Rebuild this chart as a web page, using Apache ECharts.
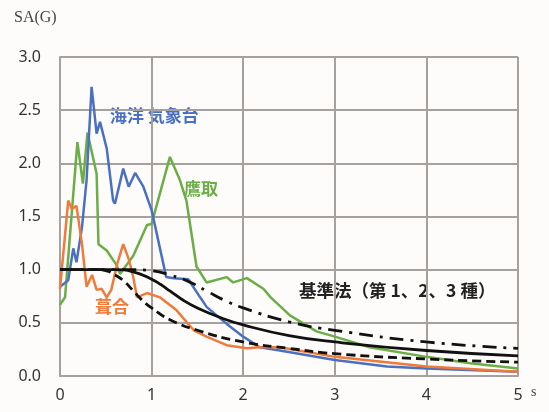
<!DOCTYPE html>
<html lang="ja">
<head>
    <meta charset="UTF-8">
    <script src="https://cdn.jsdelivr.net/npm/echarts@6/dist/echarts.min.js"></script>
    <style>
        body { margin: 0; background: #fdfcfa; }
        #main { width: 549px; height: 412px; }
    </style>
</head>
<body>
    <div id="main"></div>
    <script>
        // period (s) / spectral acceleration (G)
        const kaiyou = [[0,0.84],[0.09,0.9],[0.145,1.2],[0.18,1.07],[0.24,1.4],[0.29,1.84],[0.345,2.72],[0.40,2.28],[0.437,2.39],[0.51,2.14],[0.58,1.65],[0.60,1.62],[0.69,1.95],[0.75,1.78],[0.82,1.91],[0.91,1.78],[1.0,1.56],[1.16,0.93],[1.24,0.92],[1.40,0.91],[1.53,0.74],[1.60,0.65],[1.82,0.49],[2.0,0.37],[2.18,0.27],[2.4,0.24],[3.0,0.15],[3.57,0.09],[4.0,0.07],[5.0,0.04]];
        const takatori = [[0,0.67],[0.055,0.74],[0.19,2.2],[0.25,1.81],[0.30,2.29],[0.40,1.9],[0.42,1.24],[0.51,1.18],[0.62,1.04],[0.655,0.96],[0.80,1.13],[0.95,1.42],[1.0,1.43],[1.20,2.06],[1.31,1.84],[1.38,1.65],[1.49,1.03],[1.60,0.88],[1.82,0.93],[1.89,0.88],[2.04,0.92],[2.22,0.82],[2.30,0.74],[2.51,0.57],[2.8,0.42],[3.0,0.37],[3.38,0.27],[4.0,0.18],[4.48,0.12],[5.0,0.07]];
        const fukiai = [[0,0.82],[0.09,1.65],[0.13,1.57],[0.18,1.6],[0.24,1.24],[0.29,0.84],[0.35,0.95],[0.40,0.81],[0.455,0.82],[0.51,0.74],[0.56,0.81],[0.62,1.04],[0.69,1.24],[0.75,1.10],[0.80,0.93],[0.84,0.74],[0.95,0.78],[1.09,0.74],[1.27,0.62],[1.46,0.43],[1.60,0.37],[1.82,0.29],[2.04,0.26],[2.18,0.27],[2.4,0.27],[3.0,0.18],[4.0,0.09],[5.0,0.04]];
        const kijun1 = [[0,1],[0.4,1],[0.5,0.99],[0.6,0.95],[0.7,0.89],[0.8,0.8],[0.9,0.71],[1.0,0.64],[1.2,0.53],[1.5,0.43],[2.0,0.32],[2.5,0.26],[3.0,0.21],[4.0,0.16],[5.0,0.13]];
        const kijun2 = [[0,1],[0.6,1],[0.8,0.98],[1.0,0.91],[1.1,0.86],[1.2,0.8],[1.35,0.71],[1.5,0.64],[1.75,0.55],[2.0,0.48],[2.5,0.38],[3.0,0.32],[4.0,0.24],[5.0,0.19]];
        const kijun3 = [[0,1],[0.8,1],[1.0,0.99],[1.2,0.95],[1.4,0.89],[1.6,0.8],[1.8,0.71],[2.0,0.64],[2.5,0.51],[3.0,0.43],[4.0,0.32],[5.0,0.26]];

        const gridColor = '#a7a19e';
        const myChart = echarts.init(document.getElementById('main'));
        const option = {
            backgroundColor: '#fdfcfa',
            animation: false,
            grid: { left: 60, right: 31, top: 57, bottom: 36 },
            xAxis: {
                type: 'value', min: 0, max: 5, interval: 1,
                axisLine: { lineStyle: { color: gridColor, width: 2 } },
                axisTick: { show: false },
                axisLabel: { color: '#333', fontSize: 16, fontFamily: 'Noto Sans', margin: 11 },
                splitLine: { lineStyle: { color: gridColor, width: 2 } }
            },
            yAxis: {
                type: 'value', min: 0, max: 3, interval: 0.5,
                axisLine: { show: true, lineStyle: { color: gridColor, width: 2 } },
                axisTick: { show: false },
                axisLabel: { color: '#333', fontSize: 16, fontFamily: 'Noto Sans', margin: 19,
                    formatter: v => v.toFixed(1) },
                splitLine: { lineStyle: { color: gridColor, width: 2 } }
            },
            series: [
                { type: 'line', data: takatori, showSymbol: false, lineStyle: { color: '#6aae45', width: 2.5 } },
                { type: 'line', data: kaiyou, showSymbol: false, lineStyle: { color: '#4a70c2', width: 2.5 } },
                { type: 'line', data: fukiai, showSymbol: false, lineStyle: { color: '#ef7a3a', width: 2.5 } },
                { type: 'line', data: kijun3, smooth: true, showSymbol: false, lineStyle: { color: '#111', width: 2.8, type: [14, 7, 3, 7] } },
                { type: 'line', data: kijun1, smooth: true, showSymbol: false, lineStyle: { color: '#111', width: 2.8, type: [9, 5] } },
                { type: 'line', data: kijun2, smooth: true, showSymbol: false, lineStyle: { color: '#111', width: 2.8 } }
            ],
            graphic: [
                { type: 'text', left: 14, top: 10, style: { text: 'SA(G)', fontSize: 16, fontFamily: 'Liberation Serif', fill: '#444' } },
                { type: 'text', left: 531, top: 385, style: { text: 's', fontSize: 14, fontFamily: 'Liberation Serif', fill: '#444' } },
                { type: 'text', left: 110, top: 107, style: { text: '海洋 気象台', fontSize: 17, fontWeight: 'bold', fontFamily: 'Noto Sans CJK JP', fill: '#4a70c2' } },
                { type: 'text', left: 184, top: 180, style: { text: '鷹取', fontSize: 17, fontWeight: 'bold', fontFamily: 'Noto Sans CJK JP', fill: '#6aae45' } },
                { type: 'text', left: 95, top: 298, style: { text: '葺合', fontSize: 17, fontWeight: 'bold', fontFamily: 'Noto Sans CJK JP', fill: '#ef7a3a' } },
                { type: 'text', left: 299, top: 282, style: { text: '基準法（第 1、2、3 種）', fontSize: 17.5, fontWeight: 'bold', fontFamily: 'Noto Sans CJK JP', fill: '#222' } }
            ]
        };
        myChart.setOption(option);
    </script>
</body>
</html>
